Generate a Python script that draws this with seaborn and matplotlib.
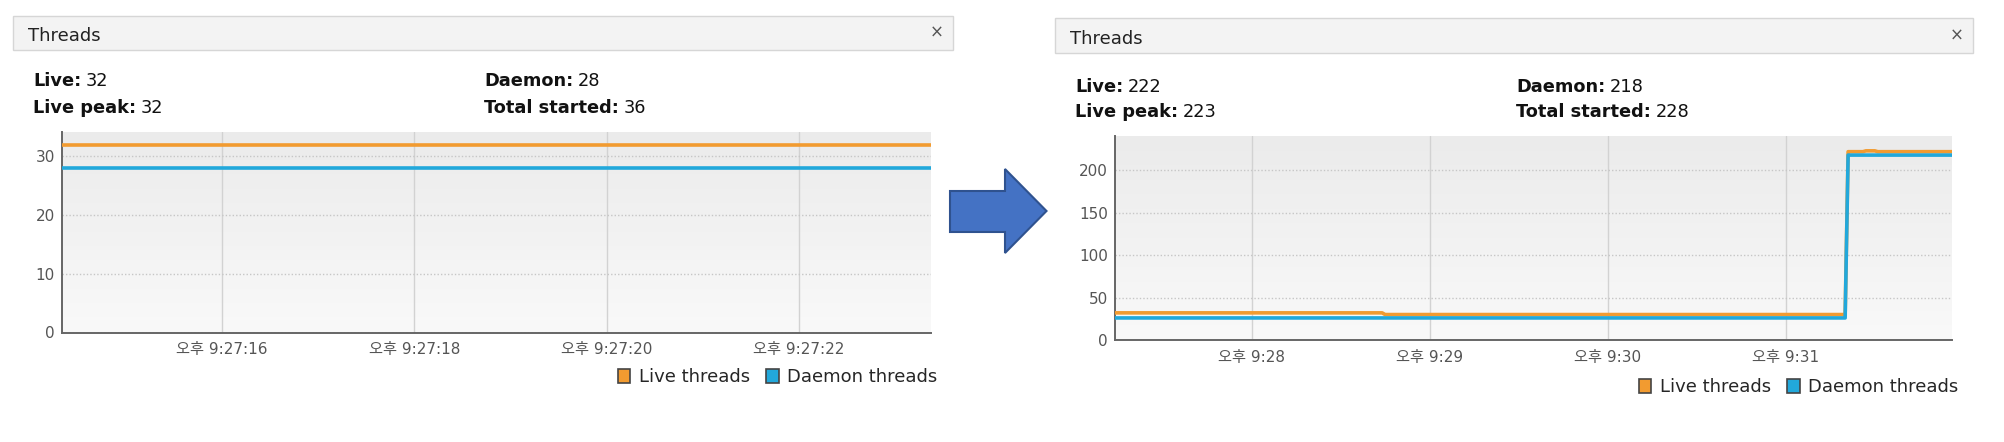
import seaborn as sns
import matplotlib.pyplot as plt
import matplotlib.dates as mdates
from matplotlib.patches import Rectangle, Polygon, Patch
from matplotlib.colors import LinearSegmentedColormap
from matplotlib.ticker import FuncFormatter
import pandas as pd
import numpy as np

W, H = 2004, 442
DAY = '2021-01-01 '

# first capture (left)
left_times = ['21:27:14', '21:27:16', '21:27:18', '21:27:20', '21:27:22', '21:27:24']
left_live = [32, 32, 32, 32, 32, 32]
left_daemon = [28, 28, 28, 28, 28, 28]
left_stats = [('Live:', '32'), ('Live peak:', '32'), ('Daemon:', '28'), ('Total started:', '36')]

# second capture (right)
right_times = ['21:27:14', '21:28:44', '21:28:45', '21:31:20', '21:31:21',
               '21:31:26', '21:31:27', '21:31:30', '21:31:31', '21:31:56']
right_live = [32, 32, 30, 30, 222, 222, 223, 223, 222, 222]
right_daemon = [26, 26, 26, 26, 218, 218, 218, 218, 218, 218]
right_stats = [('Live:', '222'), ('Live peak:', '223'), ('Daemon:', '218'), ('Total started:', '228')]

series_names = ['Live threads', 'Daemon threads']
palette = {'Live threads': '#f29b30', 'Daemon threads': '#22a8db'}
panel_title = 'Threads'

sns.set_style('white')
plt.rcParams['font.family'] = ['DejaVu Sans', 'Noto Sans CJK KR']

fig = plt.figure(figsize=(W / 100, H / 100), dpi=100)


def fx(x):
    return x / W


def fy(y):
    return 1 - y / H


def make_df(times, live, daemon):
    t = pd.to_datetime([DAY + s for s in times])
    return pd.concat([
        pd.DataFrame({'time': t, 'threads': live, 'series': series_names[0]}),
        pd.DataFrame({'time': t, 'threads': daemon, 'series': series_names[1]}),
    ])


def fmt_time(with_sec):
    def f(x, pos):
        t = pd.Timestamp(mdates.num2date(x)).round('s')
        s = f'오후 {t.hour - 12}:{t.minute:02d}'
        if with_sec:
            s += f':{t.second:02d}'
        return s
    return FuncFormatter(f)


bg_cmap = LinearSegmentedColormap.from_list('bg', ['#f9f9f9', '#ebebeb'])


def draw_panel(df, rect, xlim, ylim, yticks, locator, with_sec,
               header, stats, stat_x, stat_y, legend_xy):
    # header bar
    hx0, hy0, hx1, hy1 = header
    fig.add_artist(Rectangle((fx(hx0), fy(hy1)), fx(hx1 - hx0), (hy1 - hy0) / H,
                             transform=fig.transFigure, fc='#f3f3f3', ec='#d6d6d6', lw=1))
    fig.text(fx(hx0 + 15), fy(hy1 - 9), panel_title, fontsize=13, color='#222', va='baseline')
    fig.text(fx(hx1 - 16), fy((hy0 + hy1) / 2), '×', fontsize=12, color='#555', ha='center', va='center')

    # stats
    for i, (lab, val) in enumerate(stats):
        x = stat_x[i // 2]
        y = stat_y[i % 2]
        t = fig.text(fx(x), fy(y), lab, fontsize=12.8, weight='bold', color='#111', va='baseline')
        ax0.annotate(val, xy=(1, 0), xycoords=t, xytext=(3.5, 0), textcoords='offset points',
                     fontsize=12.8, color='#111', va='bottom')

    ax = fig.add_axes(rect)
    ax.imshow(np.linspace(0, 1, 256).reshape(-1, 1), cmap=bg_cmap, extent=(0, 1, 0, 1),
              transform=ax.transAxes, aspect='auto', origin='lower', zorder=0)
    sns.lineplot(data=df, x='time', y='threads', hue='series', palette=palette,
                 estimator=None, legend=False, lw=2.6, ax=ax, zorder=3)
    ax.set_xlim(pd.Timestamp(DAY + xlim[0]), pd.Timestamp(DAY + xlim[1]))
    ax.set_ylim(*ylim)
    ax.set_yticks(yticks)
    ax.xaxis.set_major_locator(locator)
    ax.xaxis.set_major_formatter(fmt_time(with_sec))
    ax.set_xlabel('')
    ax.set_ylabel('')
    ax.grid(axis='x', color='#d2d2d2', lw=1, zorder=1)
    ax.grid(axis='y', color='#c6c6c6', lw=1, ls=(0, (1, 1.5)), zorder=1)
    for s in ['top', 'right']:
        ax.spines[s].set_visible(False)
    for s in ['left', 'bottom']:
        ax.spines[s].set_color('#666')
        ax.spines[s].set_linewidth(1.4)
    ax.tick_params(axis='both', direction='out', length=3, width=1, color='#666',
                   labelsize=11, labelcolor='#555')
    ax.tick_params(axis='x', pad=4)
    ax.tick_params(axis='y', pad=2)

    handles = [Patch(facecolor=palette[n], edgecolor='#444', lw=1.2) for n in series_names]
    fig.legend(handles, series_names, loc='center right',
               bbox_to_anchor=(fx(legend_xy[0]), fy(legend_xy[1])), ncol=2, frameon=False,
               fontsize=13, handlelength=0.7, handleheight=0.8, handletextpad=0.45,
               columnspacing=0.9, borderpad=0, borderaxespad=0)
    return ax


ax0 = fig.add_axes([0, 0, 0.001, 0.001])
ax0.axis('off')

left_df = make_df(left_times, left_live, left_daemon)
right_df = make_df(right_times, right_live, right_daemon)

draw_panel(left_df, [fx(62), fy(332.5), fx(931 - 62), (332.5 - 131.7) / H],
           ('21:27:14.34', '21:27:23.37'), (0, 34.2), [0, 10, 20, 30],
           mdates.SecondLocator(bysecond=range(0, 60, 2)), True,
           (13, 16, 953, 50), left_stats, [33, 484], [86, 113], (937, 377.5))

draw_panel(right_df, [fx(1115), fy(340), fx(1952 - 1115), (340 - 136) / H],
           ('21:27:14', '21:31:56'), (0, 240.5), [0, 50, 100, 150, 200],
           mdates.MinuteLocator(), False,
           (1055, 18, 1973, 53), right_stats, [1075, 1516], [91.7, 117.3], (1958, 387))

# arrow between the two captures
arrow = [(950, 191), (1005, 191), (1005, 169), (1046.5, 211), (1005, 253), (1005, 232), (950, 232)]
fig.add_artist(Polygon([(fx(x), fy(y)) for x, y in arrow], closed=True, transform=fig.transFigure,
                       fc='#4472c4', ec='#2f528f', lw=1.5))

plt.savefig('out.png', dpi=100)
